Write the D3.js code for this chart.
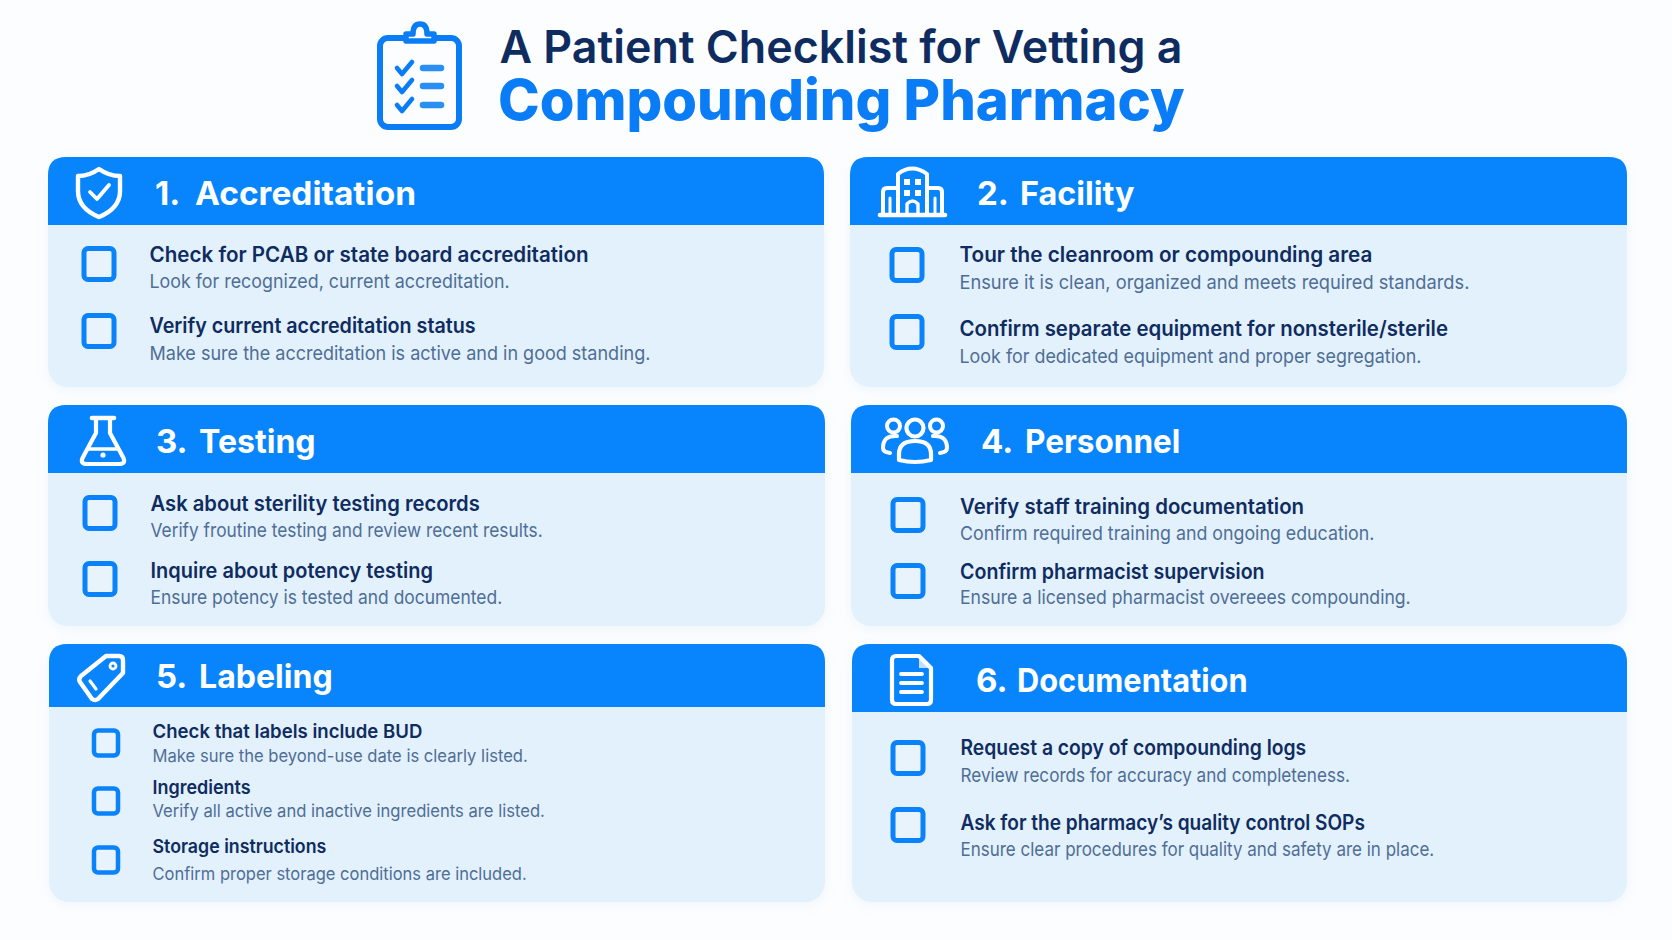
<!DOCTYPE html>
<html>
<head>
<meta charset="utf-8">
<script src="https://cdn.jsdelivr.net/npm/d3@7"></script>
<style>
  html, body { margin: 0; padding: 0; background: #fcfdfe; }
  svg { display: block; }
  text { font-family: Inter, "Noto Sans", sans-serif; }
</style>
</head>
<body>
<div id="chart"></div>
<script>
const titleLines = ["A Patient Checklist for Vetting a", "Compounding Pharmacy"];

const sectionNumbers = ["1.", "2.", "3.", "4.", "5.", "6."];
const sectionNames = ["Accreditation", "Facility", "Testing", "Personnel", "Labeling", "Documentation"];
const sectionIcons = ["shield", "building", "flask", "people", "tag", "doc"];

const itemTitles = [
  ["Check for PCAB or state board accreditation", "Verify current accreditation status"],
  ["Tour the cleanroom or compounding area", "Confirm separate equipment for nonsterile/sterile"],
  ["Ask about sterility testing records", "Inquire about potency testing"],
  ["Verify staff training documentation", "Confirm pharmacist supervision"],
  ["Check that labels include BUD", "Ingredients", "Storage instructions"],
  ["Request a copy of compounding logs", "Ask for the pharmacy\u2019s quality control SOPs"]
];

const itemNotes = [
  ["Look for recognized, current accreditation.", "Make sure the accreditation is active and in good standing."],
  ["Ensure it is clean, organized and meets required standards.", "Look for dedicated equipment and proper segregation."],
  ["Verify froutine testing and review recent results.", "Ensure potency is tested and documented."],
  ["Confirm required training and ongoing education.", "Ensure a licensed pharmacist overeees compounding."],
  ["Make sure the beyond-use date is clearly listed.", "Verify all active and inactive ingredients are listed.", "Confirm proper storage conditions are included."],
  ["Review records for accuracy and completeness.", "Ensure clear procedures for quality and safety are in place."]
];

// layout
const cardLeft = [48, 850, 48, 851, 49, 852];
const cardRight = [824, 1627, 825, 1627, 825, 1627];
const cardTop = [157, 157, 405, 405, 644, 644];
const cardBottom = [387, 387, 626, 626, 902, 902];
const headerBottom = [225, 225, 473, 473, 707, 712];
const headBaseline = [204.5, 204.5, 452.5, 452.5, 687.5, 691.5];
const numberX = [155, 977, 156, 981, 156, 976];
const nameX = [195, 1020, 199, 1025, 199, 1017];
const nameEnd = [416, 1134.5, 315.6, 1180.4, 332.7, 1247.6];
const textX = [149.5, 959.5, 150.5, 960, 152.5, 960.5];
const boxX = [99, 907, 100, 908, 106, 908];
const boxY = [[264, 331], [265, 332], [513, 579], [515, 581], [743, 801, 860], [758, 825]];
const titleY = [[262, 333], [262, 336], [511, 578], [514, 579], [738, 794, 853], [755, 830]];
const noteY = [[288, 360], [289, 363], [537, 604], [540, 604], [762, 817, 880], [782, 856]];
const titleEnd = [[588.6, 475.6], [1372.3, 1448], [479.8, 432.9], [1304.1, 1264.6], [422.3, 250.6, 326.3], [1306.2, 1364.9]];
const noteEnd = [[509.7, 650.4], [1469.4, 1421.4], [542.7, 502.2], [1374.4, 1410.7], [527.8, 544.9, 526.7], [1349.9, 1434.2]];
const iconBox = [[76, 166, 46, 52], [878, 166, 69, 51], [80, 416, 46, 50], [881, 417, 68, 45], [77, 653, 48, 48], [890, 654, 43, 52]];

const blue = "#0885fd";
const navy = "#0f2c61";

const svg = d3.select("#chart").append("svg")
  .attr("width", 1672)
  .attr("height", 940);

const defs = svg.append("defs");
const shadow = defs.append("filter").attr("id", "soft")
  .attr("x", "-5%").attr("y", "-5%").attr("width", "110%").attr("height", "115%");
shadow.append("feDropShadow")
  .attr("dx", 0).attr("dy", 3).attr("stdDeviation", 6)
  .attr("flood-color", "#9cc8ee").attr("flood-opacity", 0.14);

function topRounded(x, y, w, h, r) {
  return `M${x},${y + h}V${y + r}Q${x},${y} ${x + r},${y}H${x + w - r}Q${x + w},${y} ${x + w},${y + r}V${y + h}Z`;
}

// squeeze a text to the width it has in the picture
function fitted(sel, x, end) {
  return sel
    .attr("x", x)
    .attr("textLength", end - x)
    .attr("lengthAdjust", "spacingAndGlyphs");
}

// Icons are drawn in their own small box
const icons = {
  shield(g) {
    line(g, "M23,3 C30,8 37,10 44,10 V25 C44,38 35,46 23,51 C11,46 2,38 2,25 V10 C9,10 16,8 23,3 Z", 4.4);
    line(g, "M14,26 L21,33 L33,19", 3.8);
  },
  building(g) {
    line(g, "M2,49 H67", 4.6);
    line(g, "M20,48 V8 Q34,-3 49,8 V48", 4);
    line(g, "M20,22 H9 Q5,22 5,26 V48 M49,22 H60 Q64,22 64,26 V48", 4);
    line(g, "M12,32 V48 M57,32 V48", 3);
    line(g, "M29,48 V38 Q34.5,32 40,38 V48", 3.4);
    [[26, 13], [37, 13], [26, 24], [37, 24]].forEach(p => {
      g.append("rect").attr("x", p[0]).attr("y", p[1]).attr("width", 6).attr("height", 6).attr("fill", "#fff");
    });
  },
  flask(g) {
    line(g, "M12,2 H34", 4.6);
    line(g, "M16,2 V17 L2.5,42 Q0,48 7,48 H39 Q46,48 43.5,42 L30,17 V2", 4.2);
    line(g, "M9,33 H37", 3.4);
    g.append("circle").attr("cx", 23).attr("cy", 39).attr("r", 2.6).attr("fill", "#fff");
  },
  people(g) {
    g.append("circle").attr("cx", 34).attr("cy", 11).attr("r", 8.5).attr("fill", "none").attr("stroke", "#fff").attr("stroke-width", 4.2);
    g.append("circle").attr("cx", 12.5).attr("cy", 9).attr("r", 6.5).attr("fill", "none").attr("stroke", "#fff").attr("stroke-width", 4);
    g.append("circle").attr("cx", 55.5).attr("cy", 9).attr("r", 6.5).attr("fill", "none").attr("stroke", "#fff").attr("stroke-width", 4);
    line(g, "M18,43 V37 Q18,24 34,24 Q50,24 50,37 V43 Q34,47 18,43 Z", 4.2);
    line(g, "M16,19 Q2,18 2,31 Q2,35 9,36", 4);
    line(g, "M52,19 Q66,18 66,31 Q66,35 59,36", 4);
  },
  tag(g) {
    line(g, "M29,3 H42 Q46,3 46,7 V20 L21,46 Q18,48 15,46 L3,29 Q1,26 4,23 Z", 4.4);
    g.append("circle").attr("cx", 36).attr("cy", 13).attr("r", 3).attr("fill", "none").attr("stroke", "#fff").attr("stroke-width", 2.8);
    line(g, "M13,28 L19,36", 3.2);
  },
  doc(g) {
    line(g, "M6,2 H29 L41,14 V46 Q41,50 37,50 H6 Q2,50 2,46 V6 Q2,2 6,2 Z", 4.2);
    g.append("path").attr("fill", "#fff").attr("opacity", 0.75).attr("d", "M29,3 L40,14 H29 Z");
    line(g, "M11,20 H32 M11,29 H32 M11,38 H32", 3.8);
  }
};

function line(g, d, w) {
  return g.append("path")
    .attr("d", d)
    .attr("fill", "none")
    .attr("stroke", "#fff")
    .attr("stroke-width", w)
    .attr("stroke-linecap", "round")
    .attr("stroke-linejoin", "round");
}

// Title
svg.append("text")
  .call(fitted, 499.5, 1182.5)
  .attr("y", 63)
  .attr("font-size", 45).attr("font-weight", 600)
  .attr("fill", navy)
  .text(titleLines[0]);

svg.append("text")
  .call(fitted, 498, 1184.7)
  .attr("y", 120)
  .attr("font-size", 56).attr("font-weight", 800)
  .attr("fill", "#0a7df6")
  .text(titleLines[1]);

// Clipboard
const clip = svg.append("g").attr("fill", "none").attr("stroke", "#0a7df6").attr("stroke-linejoin", "round").attr("stroke-linecap", "round");
clip.append("rect").attr("x", 380).attr("y", 38).attr("width", 79).attr("height", 89).attr("rx", 8).attr("stroke-width", 6);
clip.append("path").attr("stroke-width", 5.5).attr("fill", "#fcfdfe")
  .attr("d", "M406,41 V34 H413 Q413,24 420,24 Q427,24 427,34 H434 V41 Z");
[68, 86, 105].forEach(y => {
  clip.append("path").attr("stroke-width", 4.6).attr("d", `M397,${y} l5,6 l10,-12`);
  clip.append("path").attr("stroke-width", 6.5).attr("stroke", "#2a8ff5").attr("d", `M423,${y} H441`);
});

// Cards
sectionNames.forEach((name, i) => {
  const g = svg.append("g").attr("class", "card");
  const w = cardRight[i] - cardLeft[i];

  g.append("rect")
    .attr("x", cardLeft[i])
    .attr("y", cardTop[i])
    .attr("width", w)
    .attr("height", cardBottom[i] - cardTop[i])
    .attr("rx", 20)
    .attr("fill", "#e3f1fc")
    .attr("filter", "url(#soft)");

  g.append("path")
    .attr("d", topRounded(cardLeft[i], cardTop[i], w, headerBottom[i] - cardTop[i], 18))
    .attr("fill", blue);

  g.append("text")
    .attr("x", numberX[i]).attr("y", headBaseline[i])
    .attr("font-size", 33).attr("font-weight", 700).attr("fill", "#fff")
    .text(sectionNumbers[i]);

  g.append("text")
    .call(fitted, nameX[i], nameEnd[i])
    .attr("y", headBaseline[i])
    .attr("font-size", 33).attr("font-weight", 700).attr("fill", "#fff")
    .text(name);

  const b = iconBox[i];
  const icon = g.append("g").attr("transform", `translate(${b[0]},${b[1]})`);
  icons[sectionIcons[i]](icon);

  const small = i === 4;
  const boxW = small ? 24 : 30;
  const boxH = small ? 25 : 31;
  itemTitles[i].forEach((title, j) => {
    g.append("rect")
      .attr("x", boxX[i] - boxW / 2)
      .attr("y", boxY[i][j] - boxH / 2)
      .attr("width", boxW)
      .attr("height", boxH)
      .attr("rx", 4)
      .attr("fill", "#e9f3fc")
      .attr("stroke", "#0a82fa")
      .attr("stroke-width", small ? 4.5 : 5);

    g.append("text")
      .call(fitted, textX[i], titleEnd[i][j])
      .attr("y", titleY[i][j])
      .attr("font-size", small ? 19 : 21).attr("font-weight", 600).attr("fill", navy)
      .text(title);

    g.append("text")
      .call(fitted, textX[i], noteEnd[i][j])
      .attr("y", noteY[i][j])
      .attr("font-size", small ? 17.5 : 19)
      .attr("fill", "#4f6e96")
      .text(itemNotes[i][j]);
  });
});
</script>
</body>
</html>
